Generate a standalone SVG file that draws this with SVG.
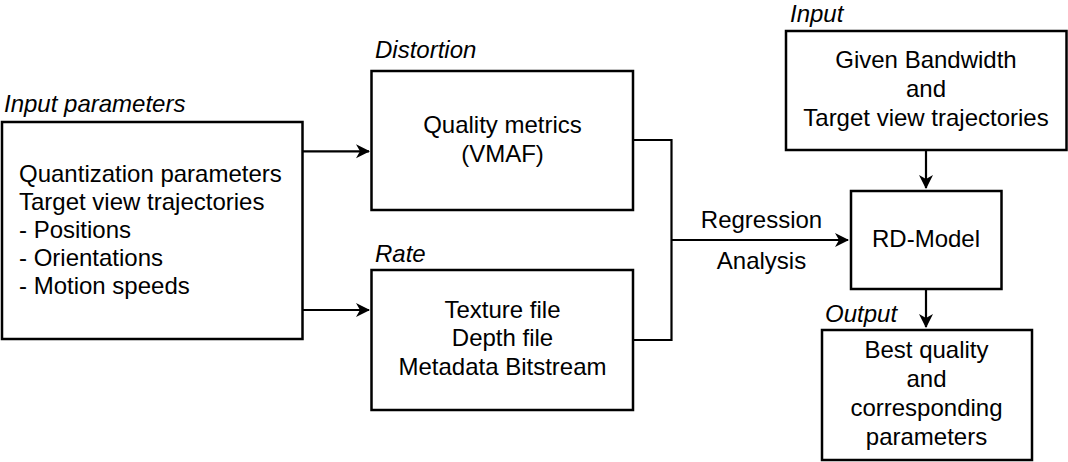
<svg xmlns="http://www.w3.org/2000/svg" width="1068" height="462" viewBox="0 0 1068 462">
<style>
.box{fill:#fff;stroke:#000;stroke-width:2.5}
.t{font-family:"Liberation Sans",Arial,Helvetica,sans-serif;font-size:24px;fill:#000}
.c{text-anchor:middle}
.i{font-style:italic}
.ln{fill:none;stroke:#000;stroke-width:2.2}
</style>
<defs>
<marker id="ah" markerUnits="userSpaceOnUse" markerWidth="20" markerHeight="20" refX="0" refY="0" viewBox="-15 -10 17 20" orient="auto" overflow="visible">
<path d="M1,0 L-13,-7 L-9,0 L-13,7 Z" fill="#000"/>
</marker>
</defs>
<rect width="1068" height="462" fill="#fff"/>
<g id="connectors">
<path class="ln" d="M302,151.3 L369,151.3" marker-end="url(#ah)"/>
<path class="ln" d="M302,310 L369,310" marker-end="url(#ah)"/>
<path class="ln" d="M633,140 L671.5,140 L671.5,340 L633,340"/>
<path class="ln" d="M671.5,240 L848,240" marker-end="url(#ah)"/>
<path class="ln" d="M926,150 L926,188" marker-end="url(#ah)"/>
<path class="ln" d="M926,289 L926,327" marker-end="url(#ah)"/>
<text class="t c" x="761.5" y="227.5">Regression</text>
<text class="t c" x="761.5" y="268.5">Analysis</text>
</g>
<g id="input-parameters">
<text class="t i" x="4" y="111.5">Input parameters</text>
<rect class="box" x="2" y="122" width="300.5" height="217"/>
<text class="t" x="19" y="181.5">Quantization parameters</text>
<text class="t" x="19" y="209.5">Target view trajectories</text>
<text class="t" x="19" y="237.8">- Positions</text>
<text class="t" x="19" y="266">- Orientations</text>
<text class="t" x="19" y="294.3">- Motion speeds</text>
</g>
<g id="distortion">
<text class="t i" x="375" y="58">Distortion</text>
<rect class="box" x="371.5" y="71" width="261.5" height="139"/>
<text class="t c" x="502.5" y="133.3">Quality metrics</text>
<text class="t c" x="502.5" y="161.5">(VMAF)</text>
</g>
<g id="rate">
<text class="t i" x="375" y="262">Rate</text>
<rect class="box" x="371.5" y="270" width="261.5" height="140"/>
<text class="t c" x="502.5" y="318">Texture file</text>
<text class="t c" x="502.5" y="346.3">Depth file</text>
<text class="t c" x="502.5" y="374.5">Metadata Bitstream</text>
</g>
<g id="input">
<text class="t i" x="790" y="22">Input</text>
<rect class="box" x="786" y="31" width="280.5" height="119"/>
<text class="t c" x="926" y="68.3">Given Bandwidth</text>
<text class="t c" x="926" y="97.3">and</text>
<text class="t c" x="926" y="126">Target view trajectories</text>
</g>
<g id="rd-model">
<rect class="box" x="851" y="191" width="150.5" height="98"/>
<text class="t c" x="926" y="247.3">RD-Model</text>
</g>
<g id="output">
<text class="t i" x="825" y="322">Output</text>
<rect class="box" x="822" y="330" width="210" height="130"/>
<text class="t c" x="926.5" y="358.3">Best quality</text>
<text class="t c" x="926.5" y="387.3">and</text>
<text class="t c" x="926.5" y="416">corresponding</text>
<text class="t c" x="926.5" y="445">parameters</text>
</g>
</svg>
